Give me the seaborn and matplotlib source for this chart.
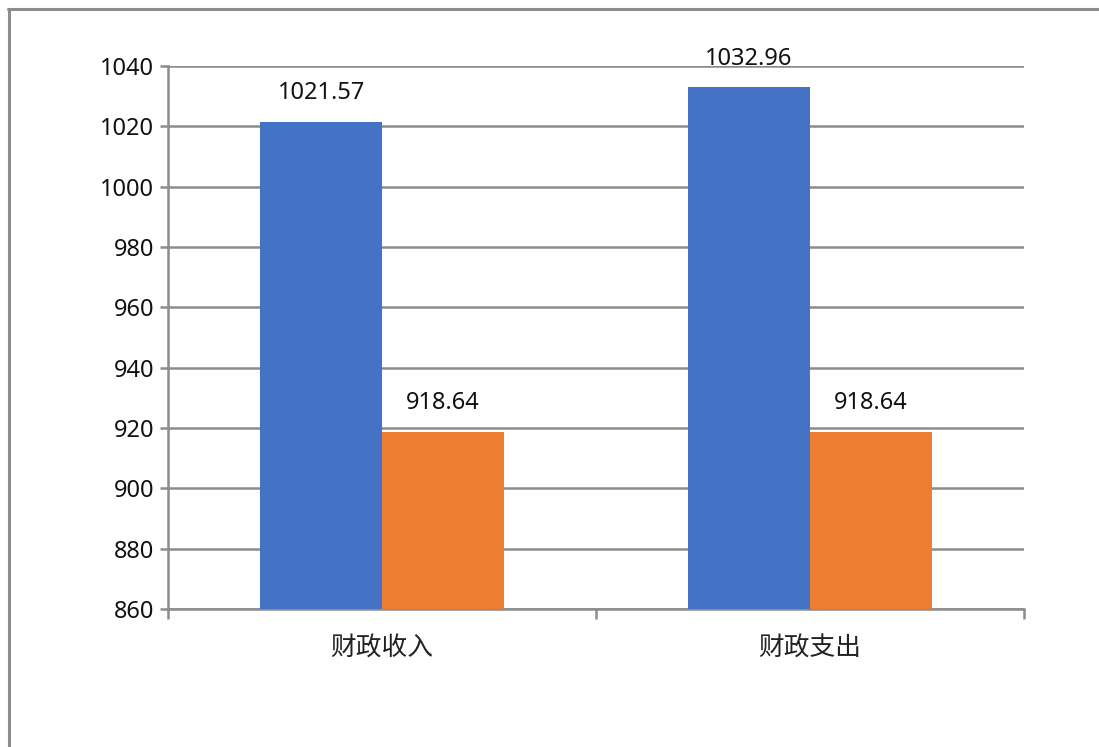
#!/usr/bin/env python3

# Grouped bar chart: fiscal revenue / expenditure.

import pandas as pd
import seaborn as sns
import matplotlib.pyplot as plt
from matplotlib.lines import Line2D

categories = ["财政收入", "财政支出"]
series_names = ["系列1", "系列2"]
series_a = [1021.57, 1032.96]
series_b = [918.64, 918.64]
y_ticks = [860, 880, 900, 920, 940, 960, 980, 1000, 1020, 1040]

df = pd.DataFrame({
    "cat": categories * 2,
    "series": [series_names[0]] * 2 + [series_names[1]] * 2,
    "value": series_a + series_b,
})

sns.set_style("white")
plt.rcParams['font.family'] = ['Noto Sans', 'Noto Sans CJK SC', 'DejaVu Sans']

GRID = "#8c8c8c"
fig = plt.figure(figsize=(10.99, 7.47), dpi=100)
ax = fig.add_axes([0.1529, 0.1847, 0.9318 - 0.1529, 0.9116 - 0.1847])

sns.barplot(
    data=df, x="cat", y="value", hue="series",
    palette=["#4472C4", "#ED7D31"], width=0.57,
    saturation=1, legend=False, ax=ax, zorder=3, linewidth=0,
)

ax.set_ylim(860, 1040)
ax.set_xlim(-0.5, 1.5)
ax.set_yticks(y_ticks)
ax.yaxis.grid(True, color=GRID, linewidth=1.8, zorder=0)
ax.set_axisbelow(True)

# Data labels.
for cont in ax.containers:
    ax.bar_label(cont, fmt="%.2f", padding=12, fontsize=17, color="#111111")

# Axes styling.
for side in ["top", "right"]:
    ax.spines[side].set_visible(False)
for side in ["left", "bottom"]:
    ax.spines[side].set_color(GRID)
    ax.spines[side].set_linewidth(1.8)

ax.set_xlabel("")
ax.set_ylabel("")
ax.tick_params(axis="y", length=6, width=1.8, color=GRID, labelsize=17,
               labelcolor="#111111", pad=4, left=True)
ax.set_xticks([0, 1])
ax.set_xticklabels(categories, fontsize=18.5, color="#222222",
                   family=['Noto Sans CJK SC', 'DejaVu Sans'])
ax.tick_params(axis="x", length=0, pad=19)
# Category boundary ticks on the x axis.
ax.set_xticks([-0.5, 0.5, 1.5], minor=True)
ax.tick_params(axis="x", which="minor", length=7, width=1.8, color=GRID,
               bottom=True)

# Outer frame (top and left edges).
fig.add_artist(Line2D([8 / 1099, 1.0], [1 - 9 / 747, 1 - 9 / 747],
                      color=GRID, linewidth=2.2, transform=fig.transFigure))
fig.add_artist(Line2D([9 / 1099, 9 / 1099], [0.0, 1 - 9 / 747],
                      color=GRID, linewidth=2.2, transform=fig.transFigure))

plt.savefig("out.png", dpi=100)
